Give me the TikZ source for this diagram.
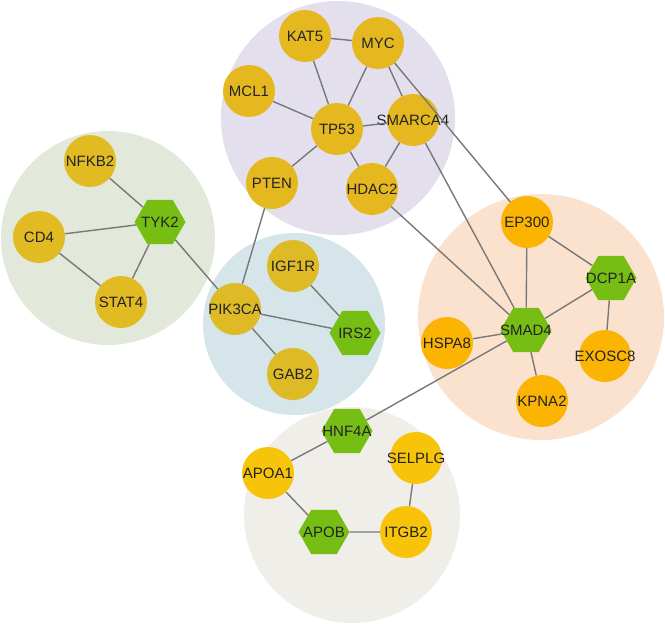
\documentclass[tikz,border=0pt]{standalone}
\usepackage{fontspec}
\setmainfont{Liberation Sans}
\usetikzlibrary{shapes.geometric}
\definecolor{bgpurple}{RGB}{227,223,236}
\definecolor{bggreen}{RGB}{226,233,218}
\definecolor{bgblue}{RGB}{213,229,234}
\definecolor{bgorange}{RGB}{251,226,206}
\definecolor{bgbeige}{RGB}{240,238,232}
\definecolor{goldA}{RGB}{230,184,32}
\definecolor{goldB}{RGB}{226,186,34}
\definecolor{goldC}{RGB}{222,186,38}
\definecolor{orangeN}{RGB}{252,180,2}
\definecolor{yellowN}{RGB}{247,196,10}
\definecolor{hexgreen}{RGB}{118,190,20}
\definecolor{edgegray}{RGB}{120,120,120}
\definecolor{txt}{RGB}{35,35,35}
\newcommand{\lbl}[1]{\makebox[0pt][c]{#1}}
\tikzset{
  gene/.style={circle, minimum size=52pt, inner sep=0pt, text=txt, font=\fontsize{15}{15}\selectfont},
  hub/.style={regular polygon, regular polygon sides=6, minimum size=51pt, inner sep=0pt, fill=hexgreen, text=txt, font=\fontsize{15}{15}\selectfont},
  link/.style={draw=edgegray, line width=1.4pt}
}
\begin{document}
\begin{tikzpicture}[x=1pt,y=-1pt]
\useasboundingbox (0,0) rectangle (665,624);
% cluster backgrounds
\fill[bgpurple] (338,118) circle (117);
\fill[bggreen] (108,238) circle (107);
\fill[bgblue] (294,324) circle (91);
\fill[bgorange] (541,317) circle (123);
\fill[bgbeige] (352,515) circle (108);
% nodes
\node[gene, fill=goldA] (KAT5) at (305,36) {\lbl{KAT5}};
\node[gene, fill=goldA] (MYC) at (378,43) {\lbl{MYC}};
\node[gene, fill=goldA] (MCL1) at (249,91) {\lbl{MCL1}};
\node[gene, fill=goldA] (TP53) at (337,129) {\lbl{TP53}};
\node[gene, fill=goldA] (SMARCA4) at (413,120) {\lbl{SMARCA4}};
\node[gene, fill=goldA] (PTEN) at (272,183) {\lbl{PTEN}};
\node[gene, fill=goldA] (HDAC2) at (372,189) {\lbl{HDAC2}};
\node[gene, fill=goldB] (NFKB2) at (90,161) {\lbl{NFKB2}};
\node[hub] (TYK2) at (160,222) {\lbl{TYK2}};
\node[gene, fill=goldB] (CD4) at (39,237) {\lbl{CD4}};
\node[gene, fill=goldB] (STAT4) at (121,302) {\lbl{STAT4}};
\node[gene, fill=goldC] (IGF1R) at (293,266) {\lbl{IGF1R}};
\node[gene, fill=goldC] (PIK3CA) at (235,309) {\lbl{PIK3CA}};
\node[hub] (IRS2) at (355,333) {\lbl{IRS2}};
\node[gene, fill=goldC] (GAB2) at (293,374) {\lbl{GAB2}};
\node[gene, fill=orangeN] (EP300) at (527,222) {\lbl{EP300}};
\node[hub] (DCP1A) at (611,278) {\lbl{DCP1A}};
\node[hub] (SMAD4) at (526,330) {\lbl{SMAD4}};
\node[gene, fill=orangeN] (HSPA8) at (447,343) {\lbl{HSPA8}};
\node[gene, fill=orangeN] (EXOSC8) at (605,356) {\lbl{EXOSC8}};
\node[gene, fill=orangeN] (KPNA2) at (542,401) {\lbl{KPNA2}};
\node[hub] (HNF4A) at (347,431) {\lbl{HNF4A}};
\node[gene, fill=yellowN] (SELPLG) at (416,458) {\lbl{SELPLG}};
\node[gene, fill=yellowN] (APOA1) at (268,473) {\lbl{APOA1}};
\node[hub] (APOB) at (324,532) {\lbl{APOB}};
\node[gene, fill=yellowN] (ITGB2) at (406,532) {\lbl{ITGB2}};
% edges
\draw[link] (KAT5) -- (MYC);
\draw[link] (KAT5) -- (TP53);
\draw[link] (MYC) -- (TP53);
\draw[link] (MYC) -- (SMARCA4);
\draw[link] (MYC) -- (EP300);
\draw[link] (MCL1) -- (TP53);
\draw[link] (TP53) -- (SMARCA4);
\draw[link] (TP53) -- (PTEN);
\draw[link] (TP53) -- (HDAC2);
\draw[link] (SMARCA4) -- (HDAC2);
\draw[link] (SMARCA4) -- (SMAD4);
\draw[link] (HDAC2) -- (SMAD4);
\draw[link] (PTEN) -- (PIK3CA);
\draw[link] (NFKB2) -- (TYK2);
\draw[link] (CD4) -- (TYK2);
\draw[link] (CD4) -- (STAT4);
\draw[link] (TYK2) -- (STAT4);
\draw[link] (TYK2) -- (PIK3CA);
\draw[link] (IGF1R) -- (IRS2);
\draw[link] (PIK3CA) -- (IRS2);
\draw[link] (PIK3CA) -- (GAB2);
\draw[link] (EP300) -- (SMAD4);
\draw[link] (EP300) -- (DCP1A);
\draw[link] (DCP1A) -- (SMAD4);
\draw[link] (DCP1A) -- (EXOSC8);
\draw[link] (SMAD4) -- (HSPA8);
\draw[link] (SMAD4) -- (KPNA2);
\draw[link] (SMAD4) -- (HNF4A);
\draw[link] (HNF4A) -- (APOA1);
\draw[link] (APOA1) -- (APOB);
\draw[link] (APOB) -- (ITGB2);
\draw[link] (ITGB2) -- (SELPLG);
\end{tikzpicture}
\end{document}
